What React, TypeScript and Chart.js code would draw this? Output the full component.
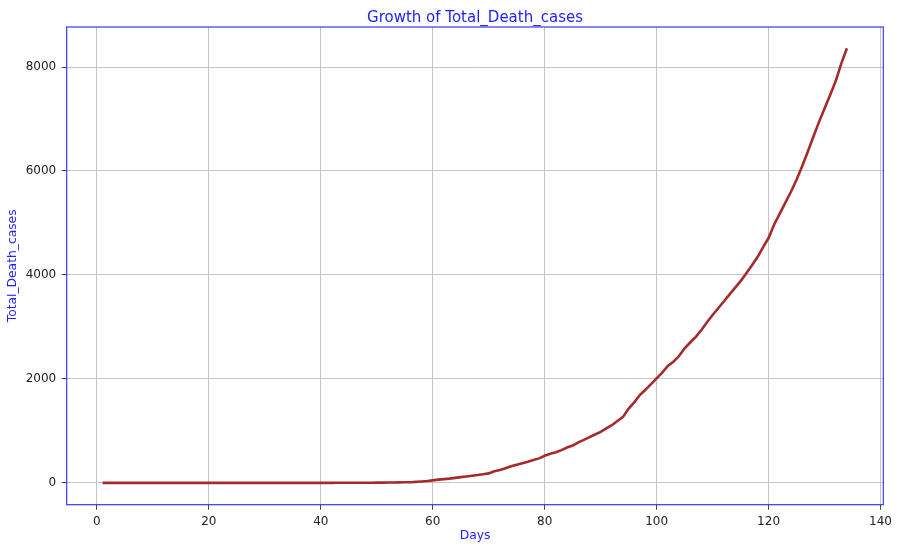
import React, { useEffect, useRef } from "react";
import { Chart, registerables } from "chart.js";

Chart.register(...registerables);

const chartTitle = "Growth of Total_Death_cases";
const xLabel = "Days";
const yLabel = "Total_Death_cases";

// Cumulative deaths, day 1 .. day 134
const totalDeaths: number[] = [
  0, 0, 0, 0, 0, 0, 0, 0, 0, 0,
  0, 0, 0, 0, 0, 0, 0, 0, 0, 0,
  0, 0, 0, 0, 0, 0, 0, 0, 0, 0,
  0, 0, 0, 0, 0, 0, 0, 0, 0, 0,
  0, 0, 1, 2, 2, 2, 2, 3, 3, 4,
  4, 7, 8, 10, 11, 13, 19, 27, 35, 48,
  62, 72, 82, 96, 111, 124, 138, 150, 166, 182,
  225, 246, 282, 320, 350, 377, 405, 440, 471, 521,
  560, 590, 630, 680, 718, 780, 826, 880, 930, 980,
  1050, 1110, 1190, 1270, 1430, 1550, 1690, 1790, 1900, 2010,
  2120, 2250, 2330, 2440, 2590, 2700, 2810, 2940, 3090, 3230,
  3360, 3490, 3620, 3750, 3880, 4030, 4180, 4340, 4530, 4710,
  4970, 5180, 5390, 5600, 5830, 6090, 6370, 6660, 6940, 7200,
  7460, 7730, 8070, 8360,
];
const firstDay = 1;
const days: number[] = totalDeaths.map((_, i) => firstDay + i);

const xTicks: number[] = [0, 20, 40, 60, 80, 100, 120, 140];
const yTicks: number[] = [0, 2000, 4000, 6000, 8000];
const xRange: [number, number] = [-5.4, 140.5];
const yRange: [number, number] = [-420, 8770];

const FONT = '"DejaVu Sans", sans-serif';
const BLUE_TEXT = "rgb(30,30,255)";

export default function App() {
  const ref = useRef<HTMLCanvasElement | null>(null);

  useEffect(() => {
    document.body.style.margin = "0";
    const canvas = ref.current;
    if (!canvas) return;

    const frame = {
      id: "frameAndTitle",
      afterDraw(chart: any) {
        const { ctx, chartArea } = chart;
        const { left, right, top, bottom } = chartArea;
        ctx.save();
        ctx.strokeStyle = "rgb(55,55,255)";
        ctx.lineWidth = 1.2;
        ctx.strokeRect(left, top, right - left, bottom - top);
        ctx.fillStyle = BLUE_TEXT;
        ctx.font = `15px ${FONT}`;
        ctx.textAlign = "center";
        ctx.textBaseline = "alphabetic";
        ctx.fillText(chartTitle, (left + right) / 2, 21.5);
        ctx.restore();
      },
    };

    const gridOpts = {
      color: "#c4c4c4",
      lineWidth: 1,
      tickColor: "#444",
      tickLength: 5,
      drawTicks: true,
    };

    const chart = new Chart(canvas, {
      type: "line",
      data: {
        datasets: [
          {
            data: days.map((d, i) => ({ x: d, y: totalDeaths[i] })),
            borderColor: "#A52A2A",
            borderWidth: 2.6,
            pointRadius: 0,
            tension: 0,
            fill: false,
          },
        ],
      },
      options: {
        animation: false,
        responsive: false,
        layout: { padding: { left: 0, right: 11.3, top: 27, bottom: 0 } },
        plugins: {
          legend: { display: false },
          tooltip: { enabled: false },
          title: { display: false },
        },
        scales: {
          x: {
            type: "linear",
            min: xRange[0],
            max: xRange[1],
            border: { display: false },
            grid: gridOpts,
            afterBuildTicks: (scale: any) => {
              scale.ticks = xTicks.map((v) => ({ value: v }));
            },
            ticks: {
              color: "#222",
              padding: 5,
              font: { family: FONT, size: 12 },
              maxRotation: 0,
              autoSkip: false,
              callback: (v: any) => String(v),
            },
            title: {
              display: true,
              text: xLabel,
              color: BLUE_TEXT,
              font: { family: FONT, size: 12.3 },
              padding: { top: 0, bottom: 2.8 },
            },
            afterFit: (scale: any) => {
              scale.height = 41.3;
            },
          },
          y: {
            type: "linear",
            min: yRange[0],
            max: yRange[1],
            border: { display: false },
            grid: gridOpts,
            afterBuildTicks: (scale: any) => {
              scale.ticks = yTicks.map((v) => ({ value: v }));
            },
            ticks: {
              color: "#222",
              padding: 5.5,
              font: { family: FONT, size: 12 },
              autoSkip: false,
              callback: (v: any) => String(v),
            },
            title: {
              display: true,
              text: yLabel,
              color: BLUE_TEXT,
              font: { family: FONT, size: 12.3 },
              padding: { top: 5.5, bottom: 0 },
            },
            afterFit: (scale: any) => {
              scale.width = 66.7;
            },
          },
        },
      },
      plugins: [frame],
    });

    return () => chart.destroy();
  }, []);

  return (
    <div style={{ width: 897, height: 546 }}>
      <canvas ref={ref} width={897} height={546} style={{ display: "block" }} />
    </div>
  );
}
